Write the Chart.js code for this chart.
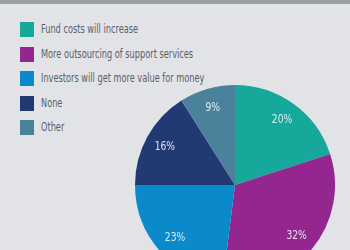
<!DOCTYPE html>
<html><head><meta charset="utf-8">
<script src="https://cdn.jsdelivr.net/npm/chart.js@4"></script>
<style>
html,body{margin:0;padding:0;width:350px;height:250px;overflow:hidden;background:#e2e3e7;position:relative;}
#band{position:absolute;left:0;top:0;width:350px;height:4px;background:#9c9fa7;}
#legend{position:absolute;left:20px;top:22px;}
.row{position:absolute;left:0;height:15px;white-space:nowrap;}
.sw{position:absolute;left:0;top:0;width:14px;height:15px;}
.tx{position:absolute;left:21px;top:-1px;font-family:"DejaVu Sans Condensed","DejaVu Sans",sans-serif;font-stretch:condensed;font-size:12px;color:#5a5f66;line-height:16px;transform-origin:0 50%;transform:scaleX(0.76);}
#wrap{position:absolute;left:135px;top:85px;width:200px;height:200px;}
</style></head><body>
<div id="band"></div>
<div id="legend"></div>
<div id="wrap"><canvas id="c" width="200" height="200"></canvas></div>
<script>
const categories = ["Fund costs will increase","More outsourcing of support services","Investors will get more value for money","None","Other"];
const values = [20, 32, 23, 16, 9];
const labels = ["20%","32%","23%","16%","9%"];
const colors = ["#16a99b","#93278f","#0a8acb","#223a72","#4b829b"];

const leg = document.getElementById('legend');
categories.forEach((c,i)=>{
  const r = document.createElement('div'); r.className='row'; r.style.top=(i*24.5)+'px';
  const s = document.createElement('div'); s.className='sw'; s.style.background=colors[i];
  const t = document.createElement('div'); t.className='tx'; t.textContent=c;
  r.appendChild(s); r.appendChild(t); leg.appendChild(r);
});

const labelPlugin = {
  id:'pctLabels',
  afterDatasetsDraw(chart){
    const ctx = chart.ctx;
    const meta = chart.getDatasetMeta(0);
    ctx.save();
    ctx.fillStyle = 'rgba(236,243,245,0.92)';
    ctx.font = '12px "DejaVu Sans Condensed","DejaVu Sans",sans-serif';
    ctx.textAlign='center'; ctx.textBaseline='middle';
    meta.data.forEach((arc,i)=>{
      const p = arc.getProps(['x','y','startAngle','endAngle','outerRadius'],true);
      const mid = (p.startAngle+p.endAngle)/2;
      const d = p.outerRadius*0.8;
      const x = p.x+Math.cos(mid)*d, y = p.y+Math.sin(mid)*d;
      ctx.save(); ctx.translate(x,y); ctx.scale(0.85,1);
      ctx.fillText(labels[i], 0, 0);
      ctx.restore();
    });
    ctx.restore();
  }
};

new Chart(document.getElementById('c'),{
  type:'pie',
  data:{labels:categories,datasets:[{data:values,backgroundColor:colors,borderWidth:0}]},
  options:{responsive:false,animation:false,layout:{padding:0},
    plugins:{legend:{display:false},tooltip:{enabled:false}}},
  plugins:[labelPlugin]
});
</script>
</body></html>
